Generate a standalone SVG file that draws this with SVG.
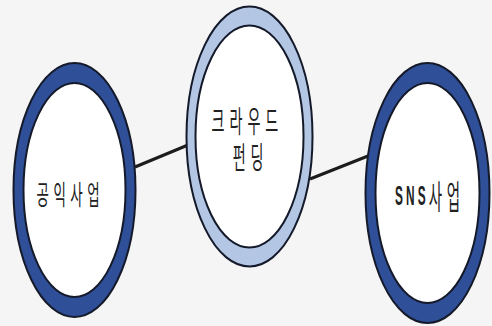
<svg xmlns="http://www.w3.org/2000/svg" width="492" height="326" viewBox="0 0 492 326">
  <style>
    .ring-dark { fill: #2f4f98; stroke: #151a2a; stroke-width: 2; }
    .ring-light { fill: #b3c7e5; stroke: #151a2a; stroke-width: 2; }
    .core { fill: #ffffff; stroke: #151a2a; stroke-width: 2; }
    .link { stroke: #1c1c1c; stroke-width: 3; fill: none; }
    .label { font-family: "Noto Sans CJK KR", "Noto Sans", sans-serif; fill: #222222; }
    .latin { font-family: "Liberation Sans", "Noto Sans", sans-serif; font-weight: bold; fill: #222222; }
  </style>
  <rect width="492" height="326" fill="#f5f5f5"/>

  <g id="connectors">
    <line class="link" x1="135" y1="167" x2="188" y2="145"/>
    <line class="link" x1="310" y1="179" x2="368" y2="156"/>
  </g>

  <g id="node-public">
    <ellipse class="ring-dark" cx="74.5" cy="190" rx="61" ry="127"/>
    <ellipse class="core" cx="74.5" cy="190" rx="51" ry="107"/>
    <!-- condensed, widely tracked lettering -->
    <text class="label" transform="translate(36.5 205) scale(0.5 1)" font-size="27" letter-spacing="9">공익사업</text>
  </g>

  <g id="node-crowdfunding">
    <ellipse class="ring-light" cx="249.5" cy="136.5" rx="63" ry="130"/>
    <ellipse class="core" cx="249.5" cy="136.5" rx="54" ry="111"/>
    <text class="label" transform="translate(211.5 0) scale(0.47 1)" font-size="30" letter-spacing="10.6">
      <tspan x="0" y="132.5">크라우드</tspan>
      <tspan x="45" y="168">펀딩</tspan>
    </text>
  </g>

  <g id="node-sns">
    <ellipse class="ring-dark" cx="427.5" cy="193" rx="62" ry="130"/>
    <ellipse class="core" cx="427.5" cy="193" rx="52" ry="110"/>
    <text transform="translate(395 0) scale(0.44 1)"><tspan class="latin" y="205" font-size="27" letter-spacing="7">SNS</tspan><tspan class="label" y="209" font-size="33" letter-spacing="11">사업</tspan></text>
  </g>
</svg>
